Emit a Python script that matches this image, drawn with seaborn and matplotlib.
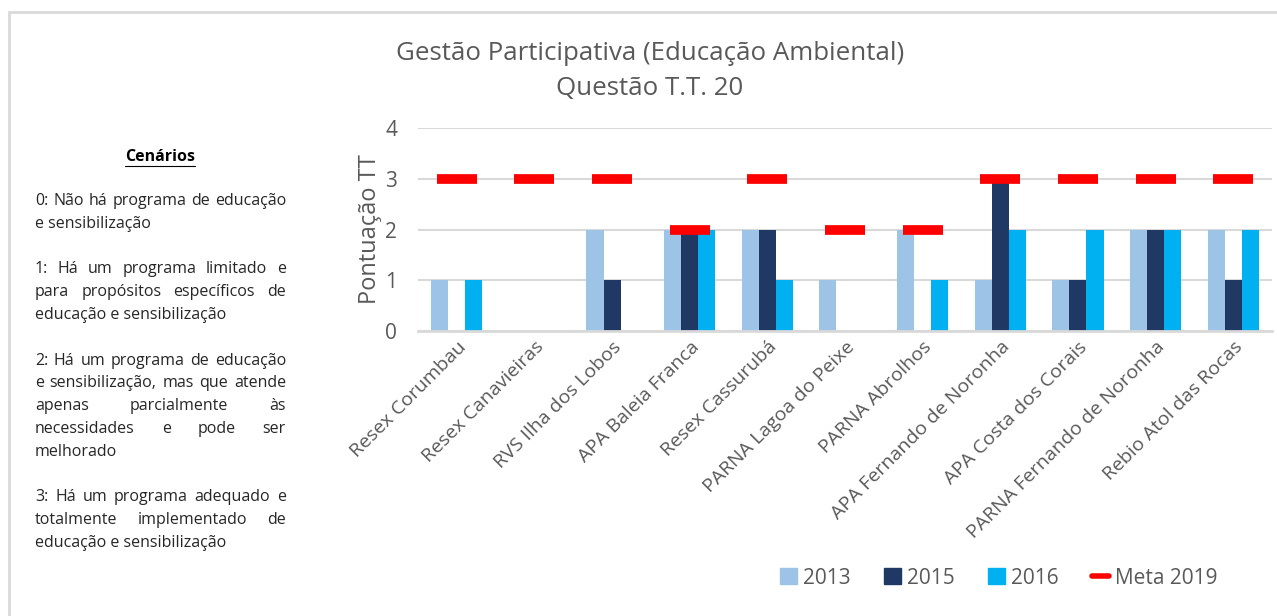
"""Gestão Participativa (Educação Ambiental) - Questão T.T. 20."""
import matplotlib
matplotlib.use("Agg")
import matplotlib.pyplot as plt
import matplotlib.patches as mpatches
from matplotlib.lines import Line2D
import numpy as np
import pandas as pd
import seaborn as sns

units = [
    "Resex Corumbau", "Resex Canavieiras", "RVS Ilha dos Lobos",
    "APA Baleia Franca", "Resex Cassurubá", "PARNA Lagoa do Peixe",
    "PARNA Abrolhos", "APA Fernando de Noronha", "APA Costa dos Corais",
    "PARNA Fernando de Noronha", "Rebio Atol das Rocas",
]
score_2013 = [1, 0, 2, 2, 2, 1, 2, 1, 1, 2, 2]
score_2015 = [0, 0, 1, 2, 2, 0, 0, 3, 1, 2, 1]
score_2016 = [1, 0, 0, 2, 1, 0, 1, 2, 2, 2, 2]
meta_2019 = [3, 3, 3, 2, 3, 2, 2, 3, 3, 3, 3]
years = ["2013", "2015", "2016"]
colors = ["#9dc3e6", "#203864", "#00b0f0"]

title = "Gestão Participativa (Educação Ambiental)\nQuestão T.T. 20"
panel_title = "Cenários"
panel_paragraphs = [
    ["0: Não há programa de educação", "e sensibilização"],
    ["1: Há um programa limitado e", "para propósitos específicos de",
     "educação e sensibilização"],
    ["2: Há um programa de educação", "e sensibilização, mas que atende",
     "apenas parcialmente às", "necessidades e pode ser", "melhorado"],
    ["3: Há um programa adequado e", "totalmente implementado de",
     "educação e sensibilização"],
]

W, H = 1277, 616
grey = "#595959"

sns.set_theme(style="white")
plt.rcParams["font.family"] = ["Open Sans", "DejaVu Sans"]

df = pd.DataFrame({
    "unit": units * 3,
    "year": sum([[y] * len(units) for y in years], []),
    "score": score_2013 + score_2015 + score_2016,
})

fig = plt.figure(figsize=(W / 100, H / 100), dpi=100)
ax = fig.add_axes([418 / W, 1 - 331 / H, 854 / W, 203 / H])

sns.barplot(data=df, x="unit", y="score", hue="year", palette=colors,
            width=0.66, gap=0, ax=ax, legend=False, saturation=1,
            linewidth=0)
ax.plot(range(len(units)), meta_2019, ls="none", marker="_", ms=29.5,
        mew=7, color="#ff0000", zorder=5)

ax.set_ylim(0, 4)
ax.set_xlim(-0.5, len(units) - 0.5)
ax.set_yticks(range(5))
ax.yaxis.grid(True, color="#d9d9d9", lw=1.5)
ax.set_axisbelow(True)
for s in ["top", "right", "left"]:
    ax.spines[s].set_visible(False)
ax.spines["bottom"].set_color("#d9d9d9")
ax.spines["bottom"].set_linewidth(2)
ax.tick_params(axis="y", labelsize=15, colors=grey, length=0, pad=15)
ax.tick_params(axis="x", labelsize=14, colors=grey, length=0, pad=5)
plt.setp(ax.get_xticklabels(), rotation=45, ha="right", rotation_mode="anchor")
ax.set_xlabel("")
ax.set_ylabel("Pontuação TT", fontsize=17, color=grey, labelpad=2)

fig.text(650 / W, 1 - 71 / H, title, ha="center", va="center",
         fontsize=18.6, color=grey, linespacing=1.5)

handles = [mpatches.Patch(color=c, label=y) for c, y in zip(colors, years)]
handles.append(Line2D([], [], color="#ff0000", lw=4, label="Meta 2019"))
fig.legend(handles=handles, loc="center", bbox_to_anchor=(999 / W, 1 - 578 / H),
           ncol=4, frameon=False, fontsize=15, labelcolor=grey,
           handlelength=0.8, handleheight=0.8, handletextpad=0.3,
           columnspacing=1.6)

# border of the chart area
fig.patches.append(mpatches.Rectangle((9 / W, -0.05), 1.2, 1 - 12 / H + 0.05,
                                      transform=fig.transFigure, fill=False,
                                      ec="#d9d9d9", lw=2))

# justified scenario panel
fig.canvas.draw()
renderer = fig.canvas.get_renderer()
left, right = 35, 286
fs = 11.5
t = fig.text(160 / W, 1 - 157 / H, panel_title, ha="center", va="center",
             fontsize=fs, fontweight="bold", color="black")
bb = t.get_window_extent(renderer)
fig.add_artist(Line2D([bb.x0 / W, bb.x1 / W], [(bb.y0 - 1) / H] * 2,
                      color="black", lw=0.8))


def word_width(word):
    tt = fig.text(0, 0, word, fontsize=fs)
    w = tt.get_window_extent(renderer).width
    tt.remove()
    return w


y = 201
for para in panel_paragraphs:
    for i, line in enumerate(para):
        words = line.split()
        last = i == len(para) - 1
        if last or len(words) == 1:
            fig.text(left / W, 1 - y / H, line, fontsize=fs, va="center")
        else:
            widths = [word_width(w) for w in words]
            gap = max((right - left - sum(widths)) / (len(words) - 1), 2)
            x = left
            for w, wd in zip(words, widths):
                fig.text(x / W, 1 - y / H, w, fontsize=fs, va="center")
                x += wd + gap
        y += 22.8
    y += 22.8

fig.savefig("out.png", dpi=100)
